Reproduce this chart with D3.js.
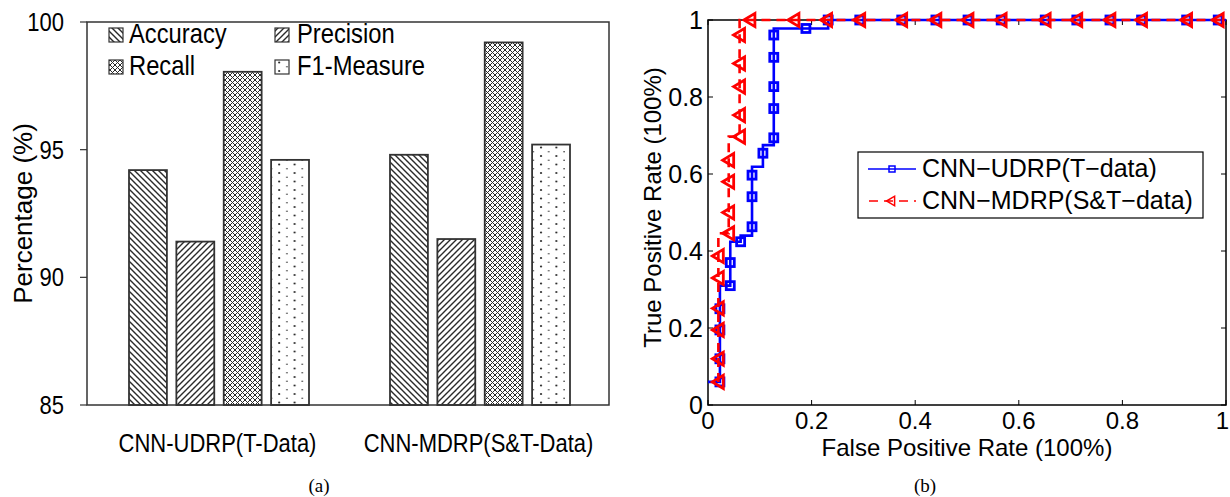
<!DOCTYPE html>
<html><head><meta charset="utf-8">
<script src="https://cdn.jsdelivr.net/npm/d3@7"></script>
<style>
body{margin:0;background:#fff}
svg{display:block}
text{font-family:"Liberation Sans",Arial,Helvetica,sans-serif;fill:#000}
</style>
</head><body>
<svg id="c" width="1230" height="497"></svg>
<script>
// ---------- data (a) ----------
const groups = ["CNN-UDRP(T-Data)", "CNN-MDRP(S&T-Data)"];
const metrics = ["Accuracy", "Precision", "Recall", "F1-Measure"];
const udrpScores = [94.2, 91.4, 98.05, 94.6];
const mdrpScores = [94.8, 91.5, 99.2, 95.2];
const yTicksA = [85, 90, 95, 100];

// ---------- data (b) ----------
const udrpFpr  = [0, 0.023, 0.023, 0.023, 0.023, 0.023, 0.043, 0.043, 0.043, 0.063, 0.063, 0.085, 0.085, 0.085, 0.085, 0.085, 0.106, 0.106, 0.106, 0.127, 0.127, 0.127, 0.127, 0.127, 0.127, 0.127, 0.189, 0.232, 0.232, 0.293, 0.374, 0.440, 0.502, 0.566, 0.651, 0.712, 0.776, 0.837, 0.924, 0.985, 1];
const udrpTpr  = [0.06, 0.06, 0.12, 0.195, 0.25, 0.31, 0.31, 0.37, 0.424, 0.424, 0.44, 0.44, 0.463, 0.541, 0.597, 0.619, 0.619, 0.654, 0.675, 0.675, 0.694, 0.77, 0.827, 0.903, 0.961, 0.978, 0.978, 0.978, 1, 1, 1, 1, 1, 1, 1, 1, 1, 1, 1, 1, 1];
const udrpMark = [0, 1, 1, 1, 1, 0, 1, 1, 0, 1, 0, 0, 1, 1, 1, 0, 0, 1, 0, 0, 1, 1, 1, 1, 1, 0, 1, 0, 1, 1, 1, 1, 1, 1, 1, 1, 1, 1, 1, 1, 0];

const mdrpFpr  = [0.02, 0.02, 0.02, 0.02, 0.02, 0.02, 0.02, 0.04, 0.04, 0.04, 0.04, 0.04, 0.061, 0.061, 0.061, 0.061, 0.061, 0.061, 0.081, 0.166, 0.229, 0.293, 0.374, 0.440, 0.502, 0.566, 0.651, 0.712, 0.776, 0.837, 0.924, 0.985, 1];
const mdrpTpr  = [0.06, 0.12, 0.195, 0.251, 0.33, 0.387, 0.446, 0.446, 0.5, 0.58, 0.636, 0.697, 0.697, 0.753, 0.827, 0.887, 0.961, 1, 1, 1, 1, 1, 1, 1, 1, 1, 1, 1, 1, 1, 1, 1, 1];
const mdrpMark = [1, 1, 1, 1, 1, 1, 0, 1, 1, 1, 1, 0, 1, 1, 1, 1, 1, 0, 1, 1, 1, 1, 1, 1, 1, 1, 1, 1, 1, 1, 1, 1, 0];

const rocTicks = [0, 0.2, 0.4, 0.6, 0.8, 1];
const rocSeries = ["CNN\u2212UDRP(T\u2212data)", "CNN\u2212MDRP(S&T\u2212data)"];

const svg = d3.select("#c");
const defs = svg.append("defs");
const ink = "#2a2a2a";
const SX = 0.88; // horizontal squeeze of panel (a) lettering

// ---------- patterns ----------
function pat(id, w, h) {
  return defs.append("pattern").attr("id", id).attr("patternUnits", "userSpaceOnUse")
    .attr("width", w).attr("height", h);
}
{
  const p = pat("pA", 6, 6);
  p.append("rect").attr("width", 6).attr("height", 6).attr("fill", "#fff");
  p.append("path").attr("d", "M-1,-1L7,7M-1,5L1,7M5,-1L7,1").attr("stroke", ink).attr("stroke-width", 1.4);
}
{
  const p = pat("pP", 6, 6);
  p.append("rect").attr("width", 6).attr("height", 6).attr("fill", "#fff");
  p.append("path").attr("d", "M-1,7L7,-1M-1,1L1,-1M5,7L7,5").attr("stroke", ink).attr("stroke-width", 1.4);
}
{
  const p = pat("pR", 5, 5);
  p.append("rect").attr("width", 5).attr("height", 5).attr("fill", "#fff");
  p.append("path").attr("d", "M-1,-1L6,6M-1,6L6,-1").attr("stroke", ink).attr("stroke-width", 1.0);
}
{
  const p = pat("pF", 15.4, 17);
  p.append("rect").attr("width", 15.4).attr("height", 17).attr("fill", "#fff");
  [[2, 3, 1.1], [9.7, 7.2, 0.8], [2, 11.5, 1.1], [9.7, 15.7, 0.8]].forEach(d =>
    p.append("circle").attr("cx", d[0]).attr("cy", d[1]).attr("r", d[2]).attr("fill", ink));
}
const patIds = ["pA", "pP", "pR", "pF"];

function sqText(g, x, y, size, anchor, str) {
  return g.append("text").attr("transform", `translate(${x},${y}) scale(${SX},1)`)
    .attr("text-anchor", anchor).attr("font-size", size).text(str);
}

// ---------- chart (a) ----------
const A = {l: 87, r: 609, t: 22, b: 405};
const yA = d3.scaleLinear().domain([85, 100]).range([A.b, A.t]);
const x0 = d3.scaleBand().domain(groups).range([A.l, A.r]);
const x1 = d3.scaleBand().domain(metrics).range([42, 222]).paddingInner(0.2);
const scoreRows = [udrpScores, mdrpScores];

const gA = svg.append("g");
groups.forEach((g, gi) => {
  gA.selectAll(null).data(metrics).enter().append("rect")
    .attr("x", m => x0(g) + x1(m))
    .attr("width", x1.bandwidth())
    .attr("y", (m, i) => yA(scoreRows[gi][i]))
    .attr("height", (m, i) => yA(85) - yA(scoreRows[gi][i]))
    .attr("fill", (m, i) => `url(#${patIds[i]})`)
    .attr("stroke", "#333").attr("stroke-width", 1.8);
});
gA.append("rect").attr("x", A.l).attr("y", A.t).attr("width", A.r - A.l).attr("height", A.b - A.t)
  .attr("fill", "none").attr("stroke", "#333").attr("stroke-width", 1.5);
yTicksA.forEach(t => {
  gA.append("line").attr("x1", A.l - 7).attr("x2", A.l).attr("y1", yA(t)).attr("y2", yA(t))
    .attr("stroke", "#333").attr("stroke-width", 1.2);
  sqText(gA, 64, yA(t) + 9, 25, "end", t);
});
gA.append("text").attr("transform", `translate(32,${(A.t + A.b) / 2}) rotate(-90)`)
  .attr("text-anchor", "middle").attr("font-size", 26).text("Percentage (%)");
groups.forEach(g => {
  sqText(gA, x0(g) + x0.bandwidth() / 2, 452, 25, "middle", g);
});
// legend (a)
const legPosA = [[109, 28], [275, 28], [109, 60], [275, 60]];
metrics.forEach((m, i) => {
  const [lx, ly] = legPosA[i];
  gA.append("rect").attr("x", lx).attr("y", ly).attr("width", 14).attr("height", 14)
    .attr("fill", `url(#${patIds[i]})`).attr("stroke", "#333").attr("stroke-width", 1.2);
  sqText(gA, lx + (i % 2 ? 22 : 20), ly + 15, 27, "start", m);
});
svg.append("text").attr("x", 319).attr("y", 492).attr("text-anchor", "middle")
  .style("font-family", "'Liberation Serif','Times New Roman',serif")
  .attr("font-size", 19).text("(a)");

// ---------- chart (b) ----------
const B = {l: 708, r: 1226, t: 20, b: 405};
const xR = d3.scaleLinear().domain([0, 1]).range([B.l, B.r]);
const yR = d3.scaleLinear().domain([0, 1]).range([B.b, B.t]);
const gB = svg.append("g");

gB.append("rect").attr("x", B.l).attr("y", B.t).attr("width", B.r - B.l).attr("height", B.b - B.t)
  .attr("fill", "none").attr("stroke", "#000").attr("stroke-width", 1.5);
rocTicks.forEach((t, i) => {
  gB.append("line").attr("x1", xR(t)).attr("x2", xR(t)).attr("y1", B.b).attr("y2", B.b - 5).attr("stroke", "#000");
  gB.append("line").attr("x1", xR(t)).attr("x2", xR(t)).attr("y1", B.t).attr("y2", B.t + 5).attr("stroke", "#000");
  gB.append("line").attr("x1", B.l).attr("x2", B.l + 5).attr("y1", yR(t)).attr("y2", yR(t)).attr("stroke", "#000");
  gB.append("line").attr("x1", B.r).attr("x2", B.r - 5).attr("y1", yR(t)).attr("y2", yR(t)).attr("stroke", "#000");
  const last = i === rocTicks.length - 1;
  gB.append("text").attr("x", last ? 1229 : xR(t)).attr("y", 429)
    .attr("text-anchor", last ? "end" : "middle").attr("font-size", 24).text(t);
  gB.append("text").attr("x", 703).attr("y", yR(t)).attr("dy", "0.36em").attr("text-anchor", "end").attr("font-size", 25).text(t);
});
gB.append("text").attr("x", (B.l + B.r) / 2).attr("y", 456).attr("text-anchor", "middle")
  .attr("font-size", 24).text("False Positive Rate (100%)");
gB.append("text").attr("transform", `translate(661,${(B.t + B.b) / 2 - 5}) rotate(-90)`)
  .attr("text-anchor", "middle").attr("font-size", 24).text("True Positive Rate (100%)");

const lineGen = d3.line().x(d => xR(d[0])).y(d => yR(d[1]));
const udrp = udrpFpr.map((f, i) => [f, udrpTpr[i], udrpMark[i]]);
const mdrp = mdrpFpr.map((f, i) => [f, mdrpTpr[i], mdrpMark[i]]);
const blue = "#0000ff", red = "#ff0000";

function square(g, x, y, s, sw) {
  g.append("rect").attr("x", x - s / 2).attr("y", y - s / 2).attr("width", s).attr("height", s)
    .attr("fill", "none").attr("stroke", blue).attr("stroke-width", sw);
}
function triLeft(g, x, y, s, sw) {
  g.append("path").attr("d", `M${x - s * 0.55},${y}L${x + s * 0.45},${y - s * 0.6}L${x + s * 0.45},${y + s * 0.6}Z`)
    .attr("fill", "none").attr("stroke", red).attr("stroke-width", sw).attr("stroke-linejoin", "miter");
}

gB.append("path").datum(udrp).attr("d", lineGen).attr("fill", "none").attr("stroke", blue).attr("stroke-width", 2.6);
udrp.filter(d => d[2]).forEach(d => square(gB, xR(d[0]), yR(d[1]), 8, 2.8));
gB.append("path").datum(mdrp).attr("d", lineGen).attr("fill", "none").attr("stroke", red).attr("stroke-width", 2.6)
  .attr("stroke-dasharray", "9,6");
mdrp.filter(d => d[2]).forEach(d => triLeft(gB, xR(d[0]), yR(d[1]), 11, 2.8));

// legend (b)
gB.append("rect").attr("x", 858).attr("y", 152).attr("width", 345).attr("height", 66)
  .attr("fill", "#fff").attr("stroke", "#000").attr("stroke-width", 1.2);
const legRows = [169, 201];
gB.append("line").attr("x1", 868).attr("x2", 916).attr("y1", legRows[0]).attr("y2", legRows[0]).attr("stroke", blue).attr("stroke-width", 1.5);
square(gB, 892, legRows[0], 6, 1.5);
gB.append("line").attr("x1", 868).attr("x2", 916).attr("y1", legRows[1]).attr("y2", legRows[1]).attr("stroke", red).attr("stroke-width", 1.5)
  .attr("stroke-dasharray", "9,6").attr("stroke-dashoffset", -1);
triLeft(gB, 891, legRows[1], 8, 1.5);
rocSeries.forEach((s, i) => {
  gB.append("text").attr("x", 922).attr("y", legRows[i] + 8).attr("font-size", 25).text(s);
});
svg.append("text").attr("x", 925).attr("y", 492).attr("text-anchor", "middle")
  .style("font-family", "'Liberation Serif','Times New Roman',serif")
  .attr("font-size", 19).text("(b)");
</script>
</body></html>
